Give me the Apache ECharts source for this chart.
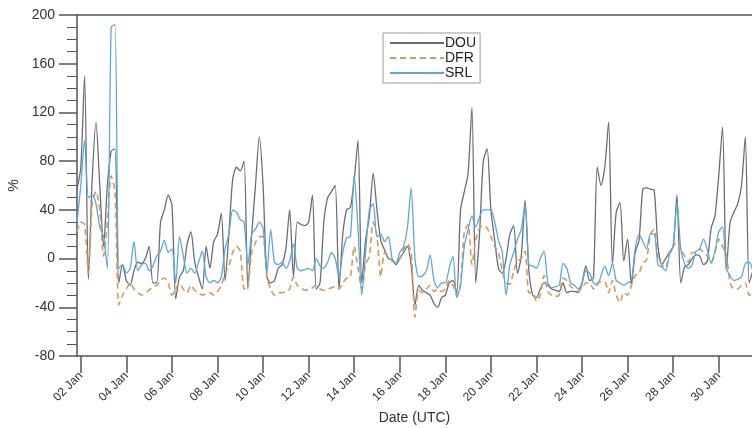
<!DOCTYPE html>
<html>
<head>
<meta charset="utf-8">
<title>DOU DFR SRL</title>
<script src="https://cdn.jsdelivr.net/npm/echarts@6/dist/echarts.min.js"></script>
<style>
html, body { margin: 0; padding: 0; background: #fff; }
#main { width: 752px; height: 428px; }
</style>
</head>
<body>
<div id="main"></div>
<script type="text/javascript">
// 4-hourly values, x in days of January, first point 01 Jan 20:00 UTC
var startDay = 1 + 20 / 24;
var stepDay = 4 / 24;

var seriesNames = ['DOU', 'DFR', 'SRL'];

var dou = [57,
  75, 150, -17, 65, 112, 60,
  10, 60, 88, 90, -20, -5,
  -18, -22, -10, -3, -4, 0,
  10, -20, -20, 30, 40, 52,
  44, -33, -15, -10, 12, 22,
  -3, -15, -25, 10, -8, 14,
  20, 37, -18, 20, 65, 75,
  72, 80, -25, 20, 60, 100,
  60, -15, -20, -18, -8, -5,
  8, 40, -15, 30, 28, 27,
  30, 52, -25, -20, 30, 50,
  55, 60, -25, 20, 40, 42,
  65, 97, -20, 15, 35, 70,
  40, 15, 7, 0, -1, -5,
  0, 5, 10, -5, -38, -22,
  -26, -28, -30, -37, -40, -32,
  -30, -20, -18, -28, 40, 55,
  70, 124, -20, 20, 80, 90,
  40, 15, -8, -12, 0, 20,
  27, -12, 2, 48, -10, -30,
  -32, -25, -20, -22, -25, -26,
  -27, -20, -28, -27, -27, -28,
  -20, -6, -18, -16, 75, 60,
  75, 112, -5, 38, 46, -2,
  16, -22, 5, 15, 57, 58,
  57, 56, 10, -5, 0, 5,
  10, 52, -20, -7, -5, 0,
  3, 2, -5, -2, 25, 35,
  68, 108, -10, 30, 38, 45,
  60, 100, -20, -10];

var dfr = [22,
  30, 28, -12, 45, 55, 40,
  2, 30, 68, 55, -38, -30,
  -25, -20, -25, -28, -30, -28,
  -26, -23, -22, -18, -16, -20,
  -30, -25, -20, -25, -28, -22,
  -26, -28, -30, -29, -28, -30,
  -27, -22, -12, -6, 5, 10,
  6, -25, -22, 5, 13, 18,
  18, -15, -25, -30, -28, -28,
  -27, -25, -15, -22, -24, -26,
  -25, -24, -22, -25, -26, -25,
  -24, -23, -25, -20, -16, -15,
  10, -8, -25, -5, 2, 30,
  18, -15, 5, 2, -2, -3,
  0, 8, 12, 5, -48, -26,
  -28, -25, -22, -27, -25, -27,
  -25, -18, -22, -30, -20, 22,
  28, -5, 15, 25, 27, 25,
  18, 10, 5, -10, -20, -21,
  -10, -2, 0, 6, -28, -28,
  -35, -30, -14, -27, -30, -31,
  -30, -16, -18, -23, -25, -27,
  -24, -20, -20, -25, -20, -19,
  -19, -28, -18, -30, -36, -28,
  -30, -22, -14, -12, -4, -1,
  20, 24, 0, -5, -8, 5,
  10, 14, 8, 2, -3, 5,
  5, 8, 5, 2, -3, 5,
  16, 10, 3, -20, -25, -25,
  -22, -20, -30, -28];

var srl = [30,
  60, 97, 50, 52, 45, 26,
  18, -8, 190, 192, -8, -5,
  -12, -8, 14, -10, -5, -4,
  -10, -6, 2, 6, 15, 5,
  8, -20, 18, 2, -12, -8,
  -12, -3, 6, -15, -20, -18,
  -20, -15, 8, 20, 40, 38,
  32, 30, -5, 20, 24, 30,
  25, -12, 24, -3, -5, -3,
  -8, -2, 12, -8, -10, -9,
  -8, -10, 0, -6, -8, -3,
  5, 0, -15, 5, 17, 18,
  68, 25, -30, 5, 40, 45,
  18, 20, 14, 18, 0, -4,
  5, 10, 25, 58, 0, -15,
  -14, -10, 3, -18, -24, -20,
  -20, -8, 2, -32, -22, 10,
  24, 35, 26, 34, 40, 40,
  40, 30, 15, 5, -30, -5,
  5, 16, 24, 44, -5, -6,
  -8, 0, 6, -20, -24, -23,
  -22, -4, -8, -20, -22, -25,
  -20, -10, -12, -20, -22, -14,
  -6, -14, -4, -18, -20, -22,
  -20, -18, 8, 20, 14, 8,
  20, 20, -5, -7, -10, 3,
  10, 46, 8, -4, -8, -5,
  6, 8, 16, 7, -4, 6,
  22, 26, -8, -14, -18, -17,
  -15, -4, -3, -10];

// x tick labels every two days
var tickDays = [2, 4, 6, 8, 10, 12, 14, 16, 18, 20, 22, 24, 26, 28, 30];
var tickLabels = ['02 Jan', '04 Jan', '06 Jan', '08 Jan', '10 Jan', '12 Jan', '14 Jan', '16 Jan',
  '18 Jan', '20 Jan', '22 Jan', '24 Jan', '26 Jan', '28 Jan', '30 Jan'];
var yTicks = [-80, -40, 0, 40, 80, 120, 160, 200];

var xMin = startDay;
var xMax = 2 + 29.46;

function toPairs(arr) {
  return arr.map(function (v, i) { return [startDay + i * stepDay, v]; });
}

var font = 'Liberation Sans, Arial, Helvetica, sans-serif';
var axisColor = '#555';

var chart = echarts.init(document.getElementById('main'));
var option = {
  animation: false,
  backgroundColor: '#fff',
  textStyle: { fontFamily: font },
  grid: { left: 77, right: 0, top: 15, bottom: 72, containLabel: false, outerBoundsMode: 'none' },
  legend: {
    orient: 'vertical',
    left: 383,
    top: 33,
    data: seriesNames,
    itemWidth: 54,
    itemHeight: 12,
    itemGap: 1,
    padding: [3, 4, 3, 6],
    borderColor: '#999',
    borderWidth: 1,
    itemStyle: { color: 'rgba(0,0,0,0)', borderWidth: 0, opacity: 0 },
    textStyle: { fontSize: 14, color: '#222', fontFamily: font, padding: [0, 0, 0, -4] }
  },
  xAxis: [{
    type: 'value',
    min: xMin,
    max: xMax,
    name: 'Date (UTC)',
    nameLocation: 'middle',
    nameGap: 55,
    nameTextStyle: { fontSize: 14, color: '#333' },
    axisLine: { onZero: false, lineStyle: { color: axisColor, width: 1.5 } },
    axisTick: { show: true, length: 17, inside: false, customValues: tickDays, lineStyle: { color: axisColor, width: 1.5 } },
    axisLabel: {
      customValues: tickDays,
      rotate: 45,
      margin: 18,
      fontSize: 12,
      color: '#333',
      formatter: function (val) {
        var idx = tickDays.indexOf(Math.round(val));
        return idx >= 0 ? tickLabels[idx] : '';
      }
    },
    splitLine: { show: false }
  }, {
    type: 'value',
    position: 'top',
    min: 0,
    max: 1,
    axisLine: { show: true, onZero: false, lineStyle: { color: axisColor, width: 1.5 } },
    axisTick: { show: false },
    axisLabel: { show: false },
    splitLine: { show: false }
  }],
  yAxis: {
    type: 'value',
    min: yTicks[0],
    max: yTicks[yTicks.length - 1],
    interval: 40,
    name: '%',
    nameLocation: 'middle',
    nameGap: 52,
    nameTextStyle: { fontSize: 14, color: '#333' },
    axisLine: { show: true, onZero: false, lineStyle: { color: axisColor, width: 1.5 } },
    axisTick: { show: true, length: 18, lineStyle: { color: axisColor, width: 1.5 } },
    minorTick: { show: true, splitNumber: 4, length: 10, lineStyle: { color: axisColor, width: 1 } },
    axisLabel: { margin: 22, fontSize: 14, color: '#333' },
    splitLine: { show: false }
  },
  series: [{
    name: 'DOU',
    type: 'line',
    data: toPairs(dou),
    symbol: 'none',
    smooth: 0.25,
    lineStyle: { color: '#6c6c78', width: 1.3 },
    itemStyle: { color: '#6c6c78' }
  }, {
    name: 'DFR',
    type: 'line',
    data: toPairs(dfr),
    symbol: 'none',
    smooth: 0.25,
    lineStyle: { color: '#d49a5c', width: 1.6, type: [6, 4] },
    itemStyle: { color: '#d49a5c' }
  }, {
    name: 'SRL',
    type: 'line',
    data: toPairs(srl),
    symbol: 'none',
    smooth: 0.25,
    lineStyle: { color: '#5aa9d9', width: 1.3 },
    itemStyle: { color: '#5aa9d9' }
  }]
};
chart.setOption(option);
</script>
</body>
</html>
